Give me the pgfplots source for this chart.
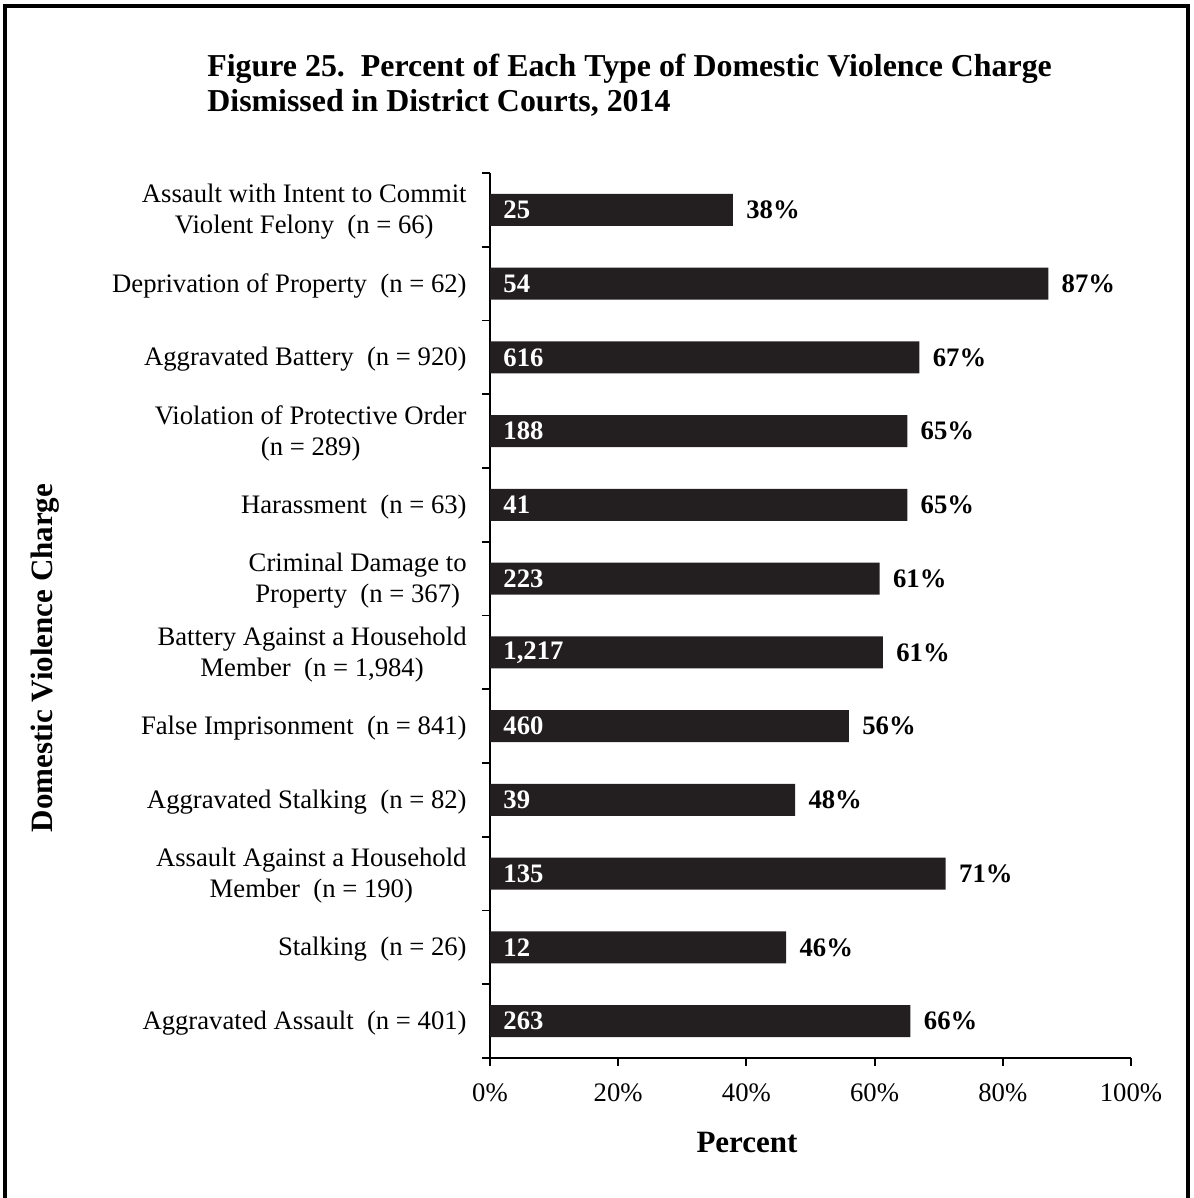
\documentclass[border=0pt]{standalone}
\usepackage{pgfplots}
\pgfplotsset{compat=1.18}
\usepackage{pgfplotstable}
\usepackage{fontspec}
\setmainfont{Liberation Serif}
\definecolor{barc}{HTML}{231F20}
\newcommand{\lbl}{\fontsize{12.3pt}{14.3pt}\selectfont}
\newcommand{\axl}{\fontsize{14.3pt}{16pt}\selectfont}

% y: 11 = top category, 0 = bottom
\pgfplotstableread{
y pct cnt
11 37.9 25
10 87.1 54
9 67.0 616
8 65.1 188
7 65.1 41
6 60.8 223
5 61.3 1,217
4 56.0 460
3 47.6 39
2 71.1 135
1 46.2 12
0 65.6 263
}\data

\begin{document}
\begin{tikzpicture}
\useasboundingbox (0,0) rectangle (550pt,552.3pt);
\draw[line width=1.85pt, black] (2.44pt,-5pt) -- (2.44pt,549.6pt) -- (547.7pt,549.6pt) -- (547.7pt,-5pt);
\node[anchor=base west, align=left, inner sep=0pt, font=\bfseries\fontsize{14.7pt}{16.1pt}\selectfont] at (95.4pt,501.1pt)
  {Figure 25.\ \ Percent of Each Type of Domestic Violence Charge\\Dismissed in District Courts, 2014};
\begin{axis}[
  at={(225.9pt,64.54pt)}, anchor=south west,
  scale only axis, width=295.5pt, height=408pt,
  xmin=0, xmax=100, ymin=-0.5, ymax=11.5,
  axis x line*=bottom, axis y line*=left,
  axis line style={line width=0.9pt, black},
  clip=false,
  tick align=outside,
  major tick length=0pt,
  minor tick length=3.7pt,
  every tick/.style={line width=0.9pt, black},
  xtick={0,20,40,60,80,100},
  xticklabels={0\%,20\%,40\%,60\%,80\%,100\%},
  minor xtick={0,20,40,60,80,100},
  ytick={0,1,2,3,4,5,6,7,8,9,10,11},
  minor ytick={-0.5,0.5,1.5,2.5,3.5,4.5,5.5,6.5,7.5,8.5,9.5,10.5,11.5},
  yticklabels={
    {Aggravated Assault\ \ (n = 401)},
    {Stalking\ \ (n = 26)},
    {Assault Against a Household\\Member\ \ (n = 190)},
    {Aggravated Stalking\ \ (n = 82)},
    {False Imprisonment\ \ (n = 841)},
    {Battery Against a Household\\Member\ \ (n = 1,984)},
    {Criminal Damage to\\Property\ \ (n = 367)},
    {Harassment\ \ (n = 63)},
    {Violation of Protective Order\\(n = 289)},
    {Aggravated Battery\ \ (n = 920)},
    {Deprivation of Property\ \ (n = 62)},
    {Assault with Intent to Commit\\Violent Felony\ \ (n = 66)}},
  yticklabel style={align=center, anchor=east, inner sep=0pt, xshift=-10.6pt, yshift=-1pt, font=\lbl},
  xticklabel style={anchor=north, inner sep=0pt, yshift=-11.5pt, font=\lbl},
  xlabel={Percent},
  xlabel style={at={(axis description cs:0.401,-0.096)}, anchor=center, font=\bfseries\axl},
  ylabel={Domestic Violence Charge},
  ylabel style={at={(axis description cs:-0.694,0.452)}, anchor=center, rotate=0, font=\bfseries\axl},
]
\addplot[xbar, bar width=14.75pt, fill=barc, draw=none,
  nodes near coords={\pgfmathprintnumber[fixed,precision=0,assume math mode=true]{\pgfplotspointmeta}\%},
  point meta=x,
  every node near coord/.style={anchor=west, inner sep=0pt, xshift=6pt, text=black, font=\bfseries\lbl}]
  table[x=pct, y=y] {\data};
\addplot[draw=none, mark=none, nodes near coords, point meta=explicit symbolic,
  every node near coord/.style={anchor=west, inner sep=0pt, xshift=6pt, text=white, font=\bfseries\lbl}]
  table[x expr=0, y=y, meta=cnt] {\data};
\end{axis}
\end{tikzpicture}
\end{document}
